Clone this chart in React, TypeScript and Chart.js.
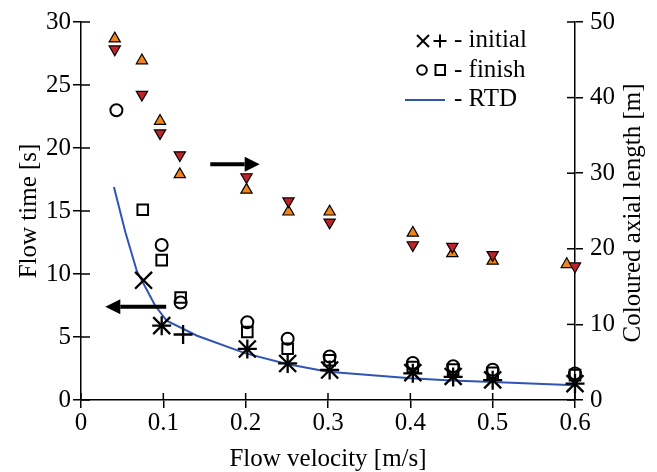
import React, { useEffect, useRef } from 'react';
import { Chart, registerables } from 'chart.js';

Chart.register(...registerables);

// ---- tick labels ----
const X_TICKS = [0, 0.1, 0.2, 0.3, 0.4, 0.5, 0.6];
const Y_TICKS = [0, 5, 10, 15, 20, 25, 30];
const Y2_TICKS = [0, 10, 20, 30, 40, 50];

// ---- flow time [s] (left axis) ----
const CROSS_V = [0.076, 0.098, 0.202, 0.251, 0.302, 0.403, 0.452, 0.5, 0.6];
const CROSS_T = [9.5, 5.9, 4.05, 2.9, 2.38, 2.17, 1.87, 1.6, 1.3];
const PLUS_V = [0.098, 0.124, 0.202, 0.251, 0.302, 0.403, 0.452, 0.5, 0.6];
const PLUS_T = [5.9, 5.2, 4.05, 2.9, 2.38, 2.12, 1.83, 1.57, 1.3];
const CIRCLE_V = [0.043, 0.098, 0.121, 0.202, 0.251, 0.302, 0.403, 0.452, 0.5, 0.6];
const CIRCLE_T = [23.0, 12.3, 7.74, 6.17, 4.86, 3.45, 2.94, 2.68, 2.41, 2.1];
const SQUARE_V = [0.075, 0.098, 0.121, 0.202, 0.251, 0.302, 0.403, 0.452, 0.5, 0.6];
const SQUARE_T = [15.1, 11.1, 8.13, 5.4, 4.07, 3.15, 2.62, 2.41, 2.15, 1.97];
const RTD_V = [0.04, 0.054, 0.068, 0.09, 0.104, 0.141, 0.2, 0.25, 0.3, 0.4, 0.45, 0.5, 0.6];
const RTD_T = [16.9, 13.3, 10.2, 7.5, 6.3, 5.1, 3.7, 2.85, 2.25, 1.72, 1.55, 1.42, 1.18];

// ---- coloured axial length [m] (right axis) ----
const UP_V = [0.041, 0.074, 0.096, 0.12, 0.201, 0.252, 0.302, 0.403, 0.451, 0.5, 0.59];
const UP_L = [47.8, 44.9, 36.9, 29.85, 27.8, 24.9, 24.9, 22.1, 19.4, 18.4, 17.95];
const DOWN_V = [0.041, 0.074, 0.096, 0.12, 0.201, 0.252, 0.302, 0.403, 0.451, 0.5, 0.6];
const DOWN_L = [46.4, 40.4, 35.3, 32.4, 29.5, 26.3, 23.5, 20.5, 20.3, 19.2, 17.7];

const pts = (xs: number[], ys: number[]) => xs.map((x, i) => ({ x, y: ys[i] }));

const FONT_FAMILY = '"Liberation Serif", "Times New Roman", serif';
const FONT = { family: FONT_FAMILY, size: 25 };

const decor = {
  id: 'decor',
  afterDraw(chart: any) {
    const { ctx, chartArea, scales } = chart;
    const x = scales.x, y = scales.y, y2 = scales.y2;
    ctx.save();
    ctx.strokeStyle = '#000';
    ctx.fillStyle = '#000';
    ctx.lineWidth = 1.5;
    const seg = (a: number, b: number, c: number, d: number) => {
      ctx.beginPath(); ctx.moveTo(a, b); ctx.lineTo(c, d); ctx.stroke();
    };
    // inner halves of tick marks
    X_TICKS.forEach(v => { const p = x.getPixelForValue(v); seg(p, chartArea.bottom, p, chartArea.bottom - 7); });
    Y_TICKS.forEach(v => { const p = y.getPixelForValue(v); seg(chartArea.left, p, chartArea.left + 9, p); });
    Y2_TICKS.forEach(v => { const p = y2.getPixelForValue(v); seg(chartArea.right, p, chartArea.right - 8, p); });

    // arrows
    const arrow = (xa: number, xb: number, yp: number) => {
      const dir = Math.sign(xb - xa);
      const head = 15, hh = 7.5;
      ctx.lineWidth = 4;
      seg(xa, yp, xb - dir * head, yp);
      ctx.beginPath();
      ctx.moveTo(xb, yp);
      ctx.lineTo(xb - dir * head, yp - hh);
      ctx.lineTo(xb - dir * head, yp + hh);
      ctx.closePath();
      ctx.fill();
    };
    arrow(x.getPixelForValue(0.1035), x.getPixelForValue(0.0295), y.getPixelForValue(7.4));
    arrow(x.getPixelForValue(0.157), x.getPixelForValue(0.217), y2.getPixelForValue(31.2));

    // legend
    ctx.font = `25px ${FONT_FAMILY}`;
    ctx.textBaseline = 'alphabetic';
    ctx.textAlign = 'left';
    ctx.fillText('- initial', 454, 47);
    ctx.fillText('- finish', 454, 77);
    ctx.fillText('- RTD', 454, 106);
    ctx.lineWidth = 2;
    // x
    seg(417, 35, 429, 47); seg(417, 47, 429, 35);
    // +
    seg(433.5, 41, 446.5, 41); seg(440, 34.5, 440, 47.5);
    // circle
    ctx.beginPath(); ctx.arc(422, 70, 4.8, 0, Math.PI * 2); ctx.stroke();
    // square
    ctx.strokeRect(435.5, 65, 9.5, 10);
    // line
    ctx.strokeStyle = '#2f54b4';
    seg(405, 100, 445, 100);

    // right axis title (reads bottom-to-top)
    ctx.fillStyle = '#000';
    ctx.translate(chart.width - 23.5, (chartArea.top + chartArea.bottom) / 2 + 2);
    ctx.rotate(-Math.PI / 2);
    ctx.textAlign = 'center';
    ctx.textBaseline = 'middle';
    ctx.fillText('Coloured axial length [m]', 0, 0);
    ctx.restore();
  },
};

export default function App() {
  const ref = useRef<HTMLCanvasElement | null>(null);

  useEffect(() => {
    if (!ref.current) return;
    Chart.defaults.font.family = FONT_FAMILY;
    Chart.defaults.color = '#000';
    const markerBase = { showLine: false, clip: false, borderColor: '#000', backgroundColor: 'rgba(0,0,0,0)' };
    const chart = new Chart(ref.current, {
      type: 'scatter',
      data: {
        datasets: [
          { ...markerBase, label: 'initial x', data: pts(CROSS_V, CROSS_T), pointStyle: 'crossRot', pointRadius: 12, borderWidth: 2.3, yAxisID: 'y' },
          { ...markerBase, label: 'initial +', data: pts(PLUS_V, PLUS_T), pointStyle: 'cross', pointRadius: 9.5, borderWidth: 2.3, yAxisID: 'y' },
          { ...markerBase, label: 'finish o', data: pts(CIRCLE_V, CIRCLE_T), pointStyle: 'circle', pointRadius: 6, borderWidth: 2, yAxisID: 'y' },
          { ...markerBase, label: 'finish sq', data: pts(SQUARE_V, SQUARE_T), pointStyle: 'rect', pointRadius: 7.5, borderWidth: 2, yAxisID: 'y' },
          { label: 'down', data: pts(DOWN_V, DOWN_L), showLine: false, clip: false, pointStyle: 'triangle', rotation: 180, pointRadius: 6.5, backgroundColor: '#c0222a', borderColor: '#000', borderWidth: 1.2, yAxisID: 'y2' },
          { label: 'up', data: pts(UP_V, UP_L), showLine: false, clip: false, pointStyle: 'triangle', rotation: 0, pointRadius: 6.5, backgroundColor: '#f0851c', borderColor: '#000', borderWidth: 1.2, yAxisID: 'y2' },
          { label: 'RTD', data: pts(RTD_V, RTD_T), showLine: true, clip: false, pointRadius: 0, borderColor: '#2f54b4', backgroundColor: '#2f54b4', borderWidth: 2, tension: 0, yAxisID: 'y' },
        ] as any,
      },
      options: {
        animation: false,
        responsive: false,
        devicePixelRatio: 1,
        events: [],
        layout: { padding: { top: 19, left: 0, right: 0, bottom: 0 } },
        plugins: { legend: { display: false }, tooltip: { enabled: false } },
        scales: {
          x: {
            type: 'linear', position: 'bottom', min: 0, max: 0.6,
            afterBuildTicks: (s: any) => { s.ticks = X_TICKS.map(v => ({ value: v })); },
            afterFit: (s: any) => { s.height = 72; },
            ticks: { font: { ...FONT, lineHeight: 1 }, color: '#000', padding: 3, maxRotation: 0, callback: (v: any) => String(v) },
            grid: { drawOnChartArea: false, tickLength: 8, color: '#000', lineWidth: 1.5 },
            border: { color: '#000', width: 1.5 },
            title: { display: true, text: 'Flow velocity [m/s]', font: { ...FONT, lineHeight: 1 }, color: '#000', padding: { top: 0, bottom: 0.5 } },
          },
          y: {
            type: 'linear', position: 'left', min: 0, max: 30,
            afterBuildTicks: (s: any) => { s.ticks = Y_TICKS.map(v => ({ value: v })); },
            afterFit: (s: any) => { s.width = 81; },
            ticks: { font: FONT, color: '#000', padding: 2 },
            grid: { drawOnChartArea: false, tickLength: 8, color: '#000', lineWidth: 1.5 },
            border: { color: '#000', width: 1.5 },
            title: { display: true, text: 'Flow time [s]', font: FONT, color: '#000', padding: { top: 14, bottom: 0 } },
          },
          y2: {
            type: 'linear', position: 'right', min: 0, max: 50,
            afterBuildTicks: (s: any) => { s.ticks = Y2_TICKS.map(v => ({ value: v })); },
            afterFit: (s: any) => { s.width = 82; },
            ticks: { font: FONT, color: '#000', padding: 7 },
            grid: { drawOnChartArea: false, tickLength: 8, color: '#000', lineWidth: 1.5 },
            border: { color: '#000', width: 1.5 },
          },
        },
      } as any,
      plugins: [decor],
    });
    return () => chart.destroy();
  }, []);

  return (
    <div style={{ position: 'absolute', left: 0, top: 0, width: 657, height: 472, background: '#fff' }}>
      <canvas ref={ref} width={657} height={472} style={{ display: 'block' }} />
    </div>
  );
}
